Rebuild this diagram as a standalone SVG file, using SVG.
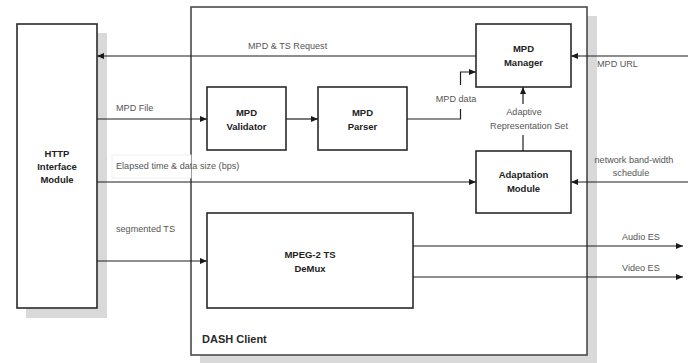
<svg xmlns="http://www.w3.org/2000/svg" width="688" height="363" viewBox="0 0 688 363">
<defs>
<marker id="ah" markerWidth="7" markerHeight="6" refX="7" refY="3" orient="auto" markerUnits="userSpaceOnUse">
<path d="M0,0 L7,3 L0,6 Z" fill="#1a1a1a"/>
</marker>
<style>
.box{fill:#fff;stroke:#2a2a2a;stroke-width:1.6}
.shadow{fill:#d9d9d9}
.t{font-family:"Liberation Sans",Arial,sans-serif;font-weight:bold;font-size:9.5px;fill:#222;text-anchor:middle}
.lbl{font-family:"Liberation Sans",Arial,sans-serif;font-size:9.1px;fill:#555}
.c{fill:none;stroke:#1f1f1f;stroke-width:1.2}
.ca{fill:none;stroke:#1f1f1f;stroke-width:1.2;marker-end:url(#ah)}
</style>
</defs>
<rect width="688" height="363" fill="#fff"/>
<g id="dash-client">
<rect class="shadow" x="587" y="16" width="10" height="347"/>
<rect class="shadow" x="200" y="355" width="397" height="8"/>
<rect x="191" y="7" width="396" height="348" fill="#fff" stroke="#4a4a4a" stroke-width="1.6"/>
<text x="202" y="343" font-family="Liberation Sans, Arial, sans-serif" font-weight="bold" font-size="11px" fill="#2a2a2a">DASH Client</text>
</g>
<g id="http">
<rect class="shadow" x="97" y="33" width="10" height="285"/>
<rect class="shadow" x="26" y="308" width="81" height="10"/>
<rect class="box" x="17" y="24" width="80" height="284"/>
<text class="t" x="57" y="156.5">HTTP</text>
<text class="t" x="57" y="169.5">Interface</text>
<text class="t" x="57" y="183">Module</text>
</g>
<g id="validator">
<rect class="box" x="207" y="87" width="79" height="63"/>
<text class="t" x="246.5" y="115.5">MPD</text>
<text class="t" x="246.5" y="129.5">Validator</text>
</g>
<g id="parser">
<rect class="box" x="318" y="87" width="89" height="63"/>
<text class="t" x="362.5" y="115.5">MPD</text>
<text class="t" x="362.5" y="129.5">Parser</text>
</g>
<g id="manager">
<rect class="box" x="476" y="24" width="95" height="63"/>
<text class="t" x="523.5" y="51.5">MPD</text>
<text class="t" x="523.5" y="66">Manager</text>
</g>
<g id="adaptation">
<rect class="box" x="476" y="151" width="95" height="62"/>
<text class="t" x="523.5" y="177.5">Adaptation</text>
<text class="t" x="523.5" y="191.5">Module</text>
</g>
<g id="demux">
<rect class="box" x="207" y="213" width="206" height="95"/>
<text class="t" x="310" y="257.5">MPEG-2 TS</text>
<text class="t" x="310" y="271.5">DeMux</text>
</g>
<g id="connectors">
<path class="ca" d="M476,56 H97"/>
<path class="ca" d="M688,56 H571"/>
<path class="ca" d="M97,119 H207"/>
<path class="ca" d="M286,119 H318"/>
<path class="c" d="M407,119 H460.5 V109"/>
<path class="ca" d="M460.5,85 V72 H476"/>
<path class="c" d="M523,151 V135"/>
<path class="ca" d="M523,104 V87"/>
<path class="ca" d="M97,182 H476"/>
<path class="ca" d="M688,182 H571"/>
<path class="ca" d="M97,261 H207"/>
<path class="ca" d="M413,246 H683"/>
<path class="ca" d="M413,277 H683"/>
</g>
<g id="labels">
<text class="lbl" x="248" y="49">MPD &amp; TS Request</text>
<text class="lbl" x="597" y="67">MPD URL</text>
<text class="lbl" x="116" y="111">MPD File</text>
<text class="lbl" x="456" y="102" text-anchor="middle">MPD data</text>
<text class="lbl" x="524" y="115" text-anchor="middle">Adaptive</text>
<text class="lbl" x="529" y="129" text-anchor="middle">Representation Set</text>
<rect x="112" y="155" width="79" height="23" fill="#fff" stroke="#ececec" stroke-width="0.8"/>
<text class="lbl" x="116" y="169">Elapsed time &amp; data size (bps)</text>
<text class="lbl" x="634" y="163" text-anchor="middle">network band-width</text>
<text class="lbl" x="631" y="176" text-anchor="middle">schedule</text>
<text class="lbl" x="116" y="232">segmented TS</text>
<text class="lbl" x="622" y="240">Audio ES</text>
<text class="lbl" x="622" y="271">Video ES</text>
</g>
</svg>
